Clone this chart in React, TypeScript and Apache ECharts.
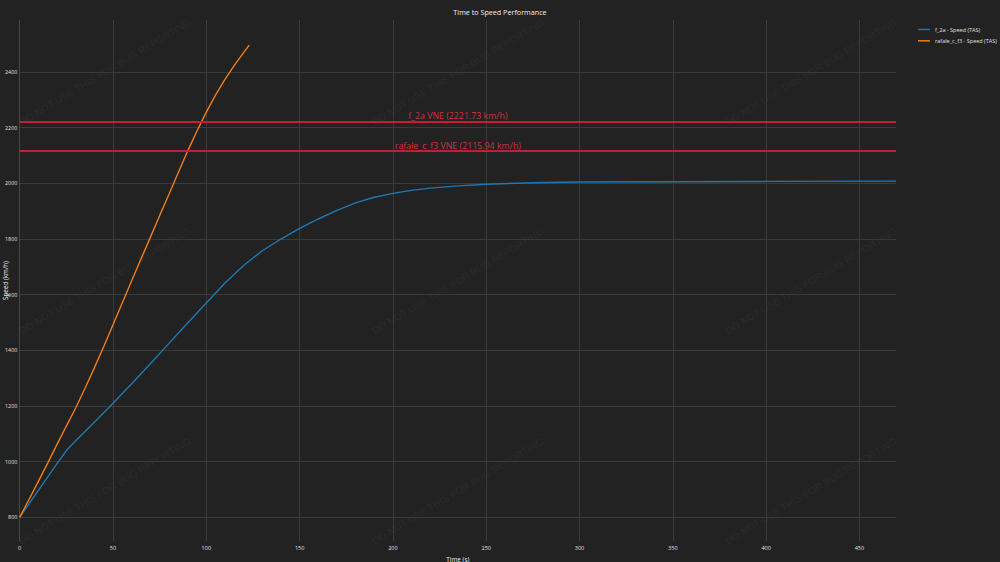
import { useEffect, useRef } from "react";
import * as echarts from "echarts";

// speed curves (time in s, speed in km/h)
const f2aTime = [
  0, 10, 20, 25, 30, 40, 50, 60, 70, 80, 90, 100, 110, 120, 130, 140, 150,
  160, 170, 180, 190, 200, 210, 220, 235, 250, 275, 300, 350, 400, 469.6,
];
const f2aSpeed = [
  800, 897, 993, 1040, 1075, 1142, 1210, 1280, 1352, 1425, 1498, 1570, 1642,
  1705, 1758, 1800, 1838, 1872, 1903, 1930, 1950, 1964, 1975, 1983, 1991,
  1997, 2002, 2005, 2006, 2007, 2008,
];
const rafaleTime = [
  0, 5, 10, 15, 20, 25, 30, 35, 40, 45, 50, 55, 60, 65, 70, 75, 80, 85, 90,
  95, 100, 105, 110, 115, 120, 123,
];
const rafaleSpeed = [
  800, 864, 929, 995, 1062, 1128, 1193, 1264, 1337, 1413, 1492, 1571, 1650,
  1728, 1806, 1884, 1961, 2039, 2116, 2188, 2256, 2318, 2374, 2424, 2470,
  2497,
];

const seriesNames = ["f_2a - Speed (TAS)", "rafale_c_f3 - Speed (TAS)"];
const vneNames = ["f_2a", "rafale_c_f3"];
const vneValues = [2221.73, 2115.94];

const watermark = "DO NOT USE THIS FOR BUG REPORTING";
const watermarkX = [105, 458, 811];
const watermarkY = [72, 281, 491];

const App = () => {
  const chartRef = useRef<HTMLDivElement | null>(null);

  useEffect(() => {
    document.body.style.margin = "0";
    if (!chartRef.current) {
      return;
    }
    const instance = echarts.init(chartRef.current, undefined, {
      renderer: "svg",
    });

    const font = "'Open Sans', 'DejaVu Sans', sans-serif";
    const red = "#c41e34";

    const marks: any[] = [];
    watermarkY.forEach((y) =>
      watermarkX.forEach((x) =>
        marks.push({
          type: "text",
          x,
          y,
          rotation: (30.8 * Math.PI) / 180,
          silent: true,
          z: 0,
          style: {
            text: watermark,
            fontSize: 10,
            fontFamily: "'Liberation Sans', Arial, sans-serif",
            fill: "rgba(255,255,255,0.06)",
            align: "center",
            verticalAlign: "middle",
          },
        }),
      ),
    );

    const plain = (v: number) => String(v);

    const option: any = {
      animation: false,
      backgroundColor: "#222222",
      textStyle: { fontFamily: font },
      title: {
        text: "Time to Speed Performance",
        left: "center",
        top: 3,
        textStyle: {
          color: "#eeeeee",
          fontSize: 7.2,
          fontWeight: "normal",
          fontFamily: font,
        },
      },
      legend: {
        orient: "vertical",
        left: 913,
        top: 21.5,
        itemWidth: 12,
        itemHeight: 1.5,
        itemGap: 5.3,
        icon: "rect",
        data: seriesNames,
        textStyle: {
          color: "#e0e0e0",
          fontSize: 5.5,
          lineHeight: 6,
          fontFamily: font,
        },
      },
      grid: {
        left: 19.7,
        right: 104,
        top: 20,
        bottom: 21,
        containLabel: false,
        outerBoundsMode: "none",
      },
      graphic: marks,
      xAxis: {
        type: "value",
        min: 0,
        max: 469.6,
        interval: 50,
        name: "Time (s)",
        nameLocation: "middle",
        nameGap: 15,
        nameMoveOverlap: false,
        nameTextStyle: { color: "#e8e8e8", fontSize: 6.4, fontFamily: font },
        axisLine: { show: false },
        axisTick: { show: false },
        axisLabel: {
          color: "#e0e0e0",
          fontSize: 5.5,
          margin: 4,
          showMaxLabel: false,
          formatter: plain,
          fontFamily: font,
        },
        splitLine: {
          show: true,
          showMaxLine: false,
          lineStyle: { color: "#3a3a3a", width: 1 },
        },
      },
      yAxis: {
        type: "value",
        min: 715,
        max: 2587,
        splitNumber: 9,
        name: "Speed (km/h)",
        nameLocation: "middle",
        nameGap: 11,
        nameMoveOverlap: false,
        nameRotate: 90,
        nameTextStyle: { color: "#e8e8e8", fontSize: 6.3, fontFamily: font },
        axisLine: { show: true, lineStyle: { color: "#474747", width: 1 } },
        axisTick: { show: false },
        axisLabel: {
          color: "#e0e0e0",
          fontSize: 5.3,
          margin: 2.5,
          showMinLabel: false,
          showMaxLabel: false,
          formatter: plain,
          fontFamily: font,
        },
        splitLine: {
          show: true,
          showMinLine: false,
          showMaxLine: false,
          lineStyle: { color: "#3a3a3a", width: 1 },
        },
      },
      series: [
        {
          name: seriesNames[0],
          type: "line",
          data: f2aTime.map((t, i) => [t, f2aSpeed[i]]),
          showSymbol: false,
          smooth: false,
          lineStyle: { width: 1.4, color: "#1f77b4" },
          itemStyle: { color: "#1f77b4" },
          z: 3,
          markLine: {
            silent: true,
            symbol: "none",
            lineStyle: { color: red, width: 2, type: "solid" },
            label: {
              show: true,
              position: "middle",
              distance: 1,
              color: "#d0303f",
              fontSize: 8.8,
              fontFamily: font,
            },
            data: vneValues.map((v, i) => ({
              yAxis: v,
              label: { formatter: `${vneNames[i]} VNE (${v.toFixed(2)} km/h)` },
            })),
          },
        },
        {
          name: seriesNames[1],
          type: "line",
          data: rafaleTime.map((t, i) => [t, rafaleSpeed[i]]),
          showSymbol: false,
          smooth: false,
          lineStyle: { width: 1.4, color: "#ef7d1a" },
          itemStyle: { color: "#ef7d1a" },
          z: 3,
        },
      ],
    };

    instance.setOption(option);

    return () => {
      instance.dispose();
    };
  }, []);

  return <div ref={chartRef} style={{ width: 1000, height: 562 }} />;
};

export default App;
